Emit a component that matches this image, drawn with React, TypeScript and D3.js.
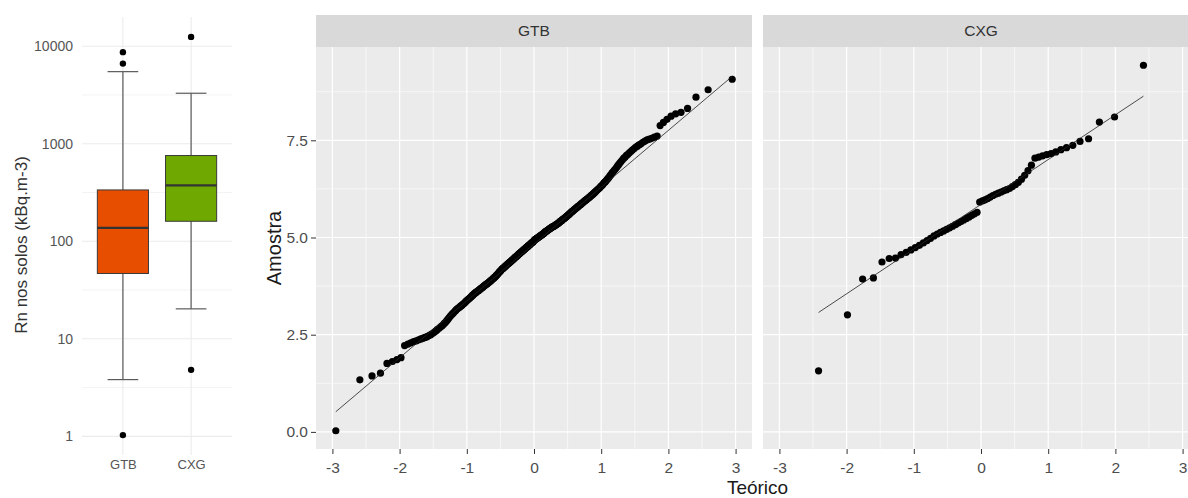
import React, { useEffect, useRef } from "react";
import * as d3 from "d3";

// ln(Rn) sorted samples
const groups = ["GTB", "CXG"];

const gtbSample = [
  0.03, 1.34, 1.44, 1.51, 1.76, 1.81, 1.86, 1.91, 2.22, 2.26,
  2.29, 2.32, 2.34, 2.37, 2.39, 2.41, 2.43, 2.45, 2.48, 2.50,
  2.53, 2.56, 2.59, 2.63, 2.66, 2.69, 2.72, 2.75, 2.79, 2.82,
  2.86, 2.90, 2.94, 2.98, 3.01, 3.04, 3.07, 3.10, 3.13, 3.16,
  3.18, 3.20, 3.22, 3.24, 3.26, 3.28, 3.30, 3.32, 3.35, 3.37,
  3.39, 3.41, 3.43, 3.45, 3.47, 3.49, 3.51, 3.53, 3.55, 3.57,
  3.58, 3.60, 3.61, 3.63, 3.64, 3.66, 3.67, 3.69, 3.70, 3.72,
  3.73, 3.75, 3.76, 3.78, 3.79, 3.80, 3.82, 3.83, 3.84, 3.86,
  3.87, 3.89, 3.90, 3.92, 3.93, 3.95, 3.96, 3.98, 3.99, 4.01,
  4.03, 4.04, 4.06, 4.08, 4.10, 4.12, 4.13, 4.15, 4.17, 4.19,
  4.20, 4.21, 4.22, 4.24, 4.25, 4.27, 4.28, 4.29, 4.31, 4.32,
  4.33, 4.35, 4.36, 4.37, 4.38, 4.40, 4.41, 4.42, 4.44, 4.45,
  4.46, 4.48, 4.49, 4.50, 4.51, 4.53, 4.54, 4.55, 4.57, 4.58,
  4.59, 4.60, 4.62, 4.63, 4.64, 4.65, 4.66, 4.68, 4.69, 4.70,
  4.71, 4.73, 4.74, 4.75, 4.76, 4.77, 4.79, 4.80, 4.81, 4.82,
  4.83, 4.85, 4.86, 4.87, 4.88, 4.89, 4.91, 4.93, 4.94, 4.95,
  4.96, 4.97, 4.98, 4.99, 5.00, 5.01, 5.02, 5.03, 5.04, 5.05,
  5.06, 5.07, 5.08, 5.09, 5.10, 5.11, 5.13, 5.14, 5.15, 5.16,
  5.17, 5.18, 5.19, 5.20, 5.21, 5.22, 5.23, 5.24, 5.25, 5.26,
  5.27, 5.28, 5.28, 5.29, 5.30, 5.31, 5.32, 5.33, 5.34, 5.35,
  5.36, 5.37, 5.38, 5.40, 5.41, 5.42, 5.43, 5.44, 5.46, 5.47,
  5.48, 5.49, 5.50, 5.52, 5.53, 5.54, 5.56, 5.57, 5.58, 5.60,
  5.61, 5.63, 5.64, 5.66, 5.67, 5.68, 5.70, 5.71, 5.73, 5.74,
  5.75, 5.77, 5.78, 5.80, 5.81, 5.82, 5.84, 5.85, 5.87, 5.88,
  5.90, 5.91, 5.93, 5.94, 5.96, 5.97, 5.99, 6.00, 6.02, 6.03,
  6.05, 6.07, 6.09, 6.10, 6.12, 6.14, 6.16, 6.18, 6.20, 6.22,
  6.24, 6.26, 6.28, 6.31, 6.33, 6.35, 6.38, 6.41, 6.43, 6.46,
  6.49, 6.52, 6.55, 6.59, 6.62, 6.66, 6.69, 6.73, 6.76, 6.80,
  6.84, 6.88, 6.92, 6.96, 7.00, 7.04, 7.07, 7.11, 7.14, 7.18,
  7.21, 7.25, 7.28, 7.32, 7.35, 7.38, 7.41, 7.45, 7.48, 7.51,
  7.53, 7.55, 7.58, 7.61, 7.88, 7.96, 8.04, 8.12, 8.18, 8.22,
  8.32, 8.61, 8.80, 9.07
];

const cxgSample = [
  1.57, 3.01, 3.93, 3.96, 4.37, 4.46, 4.47, 4.56, 4.62, 4.68,
  4.74, 4.80, 4.86, 4.92, 4.98, 5.04, 5.09, 5.13, 5.17, 5.21,
  5.25, 5.29, 5.33, 5.37, 5.41, 5.45, 5.49, 5.53, 5.57, 5.61,
  5.65, 5.91, 5.94, 5.97, 6.00, 6.04, 6.08, 6.11, 6.14, 6.17,
  6.20, 6.23, 6.26, 6.31, 6.36, 6.42, 6.50, 6.60, 6.72, 6.86,
  7.04, 7.07, 7.10, 7.13, 7.16, 7.20, 7.26, 7.31, 7.37, 7.47,
  7.54, 7.97, 8.10, 9.43
];

const groupColors = ["#E84E00", "#6FA800"];
const boxYTicks = [1, 10, 100, 1000, 10000];
const qqXTicks = [-3, -2, -1, 0, 1, 2, 3];
const qqYTicks = [0, 2.5, 5, 7.5];
const boxTitle = "Rn nos solos (kBq.m-3)";
const xTitle = "Teórico";
const yTitle = "Amostra";

const font = "'Liberation Sans', Arial, sans-serif";

// inverse normal CDF (Acklam)
function qnorm(p: number) {
  const a = [-39.69683028665376, 220.9460984245205, -275.9285104469687, 138.357751867269, -30.66479806614716, 2.506628277459239];
  const b = [-54.47609879822406, 161.5858368580409, -155.6989798598866, 66.80131188771972, -13.28068155288572];
  const c = [-0.007784894002430293, -0.3223964580411365, -2.400758277161838, -2.549671500254454, 4.374664141464968, 2.938163982698783];
  const d = [0.007784695709041462, 0.3224671290700398, 2.445134137142996, 3.754408661907416];
  const pl = 0.02425;
  if (p < pl) {
    const q = Math.sqrt(-2 * Math.log(p));
    return (((((c[0] * q + c[1]) * q + c[2]) * q + c[3]) * q + c[4]) * q + c[5]) / ((((d[0] * q + d[1]) * q + d[2]) * q + d[3]) * q + 1);
  }
  if (p > 1 - pl) {
    const q = Math.sqrt(-2 * Math.log(1 - p));
    return -(((((c[0] * q + c[1]) * q + c[2]) * q + c[3]) * q + c[4]) * q + c[5]) / ((((d[0] * q + d[1]) * q + d[2]) * q + d[3]) * q + 1);
  }
  const q = p - 0.5;
  const r = q * q;
  return (((((a[0] * r + a[1]) * r + a[2]) * r + a[3]) * r + a[4]) * r + a[5]) * q / (((((b[0] * r + b[1]) * r + b[2]) * r + b[3]) * r + b[4]) * r + 1);
}

export default function App() {
  const ref = useRef<SVGSVGElement>(null);

  useEffect(() => {
    const svg = d3.select(ref.current);
    svg.selectAll("*").remove();

    const samples = [gtbSample, cxgSample].map(s => s.slice().sort(d3.ascending));
    const allVals = samples.flat();
    const [vMin, vMax] = d3.extent(allVals) as [number, number];

    // ---------- boxplot ----------
    const box = { left: 82, right: 232, top: 17, bottom: 455 };
    const l0 = vMin / Math.LN10, l1 = vMax / Math.LN10;
    const lpad = (l1 - l0) * 0.05;
    const yBox = d3.scaleLog().domain([10 ** (l0 - lpad), 10 ** (l1 + lpad)]).range([box.bottom, box.top]);
    const xBox = d3.scalePoint().domain(groups).range([box.left, box.right]).padding(0.6);
    const step = xBox.step();

    const bg = svg.append("g");
    bg.selectAll("line.minor").data(boxYTicks.slice(0, -1).map(t => t * Math.sqrt(10))).enter().append("line")
      .attr("x1", box.left).attr("x2", box.right)
      .attr("y1", d => yBox(d)).attr("y2", d => yBox(d))
      .attr("stroke", "#EBEBEB").attr("stroke-width", 0.6);
    bg.selectAll("line.major").data(boxYTicks).enter().append("line")
      .attr("x1", box.left).attr("x2", box.right)
      .attr("y1", d => yBox(d)).attr("y2", d => yBox(d))
      .attr("stroke", "#EBEBEB").attr("stroke-width", 1.1);
    bg.selectAll("line.vmajor").data(groups).enter().append("line")
      .attr("x1", d => xBox(d)!).attr("x2", d => xBox(d)!)
      .attr("y1", box.top).attr("y2", box.bottom)
      .attr("stroke", "#EBEBEB").attr("stroke-width", 1.1);

    const stats = samples.map(sorted => {
      const q1 = d3.quantile(sorted, 0.25)!;
      const med = d3.quantile(sorted, 0.5)!;
      const q3 = d3.quantile(sorted, 0.75)!;
      const iqr = q3 - q1;
      const lo = q1 - 1.5 * iqr, hi = q3 + 1.5 * iqr;
      const inside = sorted.filter(v => v >= lo && v <= hi);
      return {
        q1, med, q3,
        wlo: d3.min(inside)!, whi: d3.max(inside)!,
        out: sorted.filter(v => v < lo || v > hi)
      };
    });

    const bw = step * 0.75;
    const capW = step * 0.45;
    stats.forEach((s, k) => {
      const cx = xBox(groups[k])!;
      const g = svg.append("g");
      const wl = (a: number, b: number) => g.append("line")
        .attr("x1", cx).attr("x2", cx)
        .attr("y1", yBox(Math.exp(a))).attr("y2", yBox(Math.exp(b)))
        .attr("stroke", "#5a5a5a").attr("stroke-width", 1.2);
      wl(s.q3, s.whi);
      wl(s.q1, s.wlo);
      [s.whi, s.wlo].forEach(v => {
        g.append("line")
          .attr("x1", cx - capW / 2).attr("x2", cx + capW / 2)
          .attr("y1", yBox(Math.exp(v))).attr("y2", yBox(Math.exp(v)))
          .attr("stroke", "#5a5a5a").attr("stroke-width", 1.2);
      });
      g.append("rect")
        .attr("x", cx - bw / 2).attr("width", bw)
        .attr("y", yBox(Math.exp(s.q3)))
        .attr("height", yBox(Math.exp(s.q1)) - yBox(Math.exp(s.q3)))
        .attr("fill", groupColors[k]).attr("stroke", "#3a3a3a").attr("stroke-width", 1);
      g.append("line")
        .attr("x1", cx - bw / 2).attr("x2", cx + bw / 2)
        .attr("y1", yBox(Math.exp(s.med))).attr("y2", yBox(Math.exp(s.med)))
        .attr("stroke", "#333").attr("stroke-width", 2.2);
      g.selectAll("circle").data(s.out).enter().append("circle")
        .attr("cx", cx).attr("cy", v => yBox(Math.exp(v))).attr("r", 3.2)
        .attr("fill", "#000");
    });

    const byAxis = svg.append("g").attr("transform", `translate(${box.left},0)`)
      .call(d3.axisLeft(yBox).tickValues(boxYTicks).tickSize(0).tickPadding(9).tickFormat(d => String(d)));
    byAxis.select(".domain").remove();
    byAxis.attr("font-family", font).attr("font-size", 14);
    byAxis.selectAll(".tick text").attr("fill", "#555");

    const bxAxis = svg.append("g").attr("transform", `translate(0,${box.bottom})`)
      .call(d3.axisBottom(xBox).tickSize(0).tickPadding(5));
    bxAxis.select(".domain").remove();
    bxAxis.attr("font-family", font).attr("font-size", 13);
    bxAxis.selectAll(".tick text").attr("fill", "#555");

    svg.append("text")
      .attr("transform", `translate(27,${(box.top + box.bottom) / 2 + 9}) rotate(-90)`)
      .attr("text-anchor", "middle").attr("font-family", font).attr("font-size", 17)
      .attr("fill", "#333").text(boxTitle);

    // ---------- QQ facets ----------
    const panelW = 436, gap = 11, pLeft = 316;
    const stripTop = 15, pTop = 47, pBottom = 449;

    const qq = samples.map(sorted => {
      const n = sorted.length;
      const pts = sorted.map((v, i) => ({ t: qnorm((i + 0.5) / n), v }));
      const y1 = d3.quantile(sorted, 0.25)!, y2 = d3.quantile(sorted, 0.75)!;
      const x1 = qnorm(0.25), x2 = qnorm(0.75);
      const slope = (y2 - y1) / (x2 - x1);
      const intercept = y1 - slope * x1;
      return { pts, slope, intercept };
    });

    const tAll = qq.flatMap(d => d.pts.map(p => p.t));
    const [tMin, tMax] = d3.extent(tAll) as [number, number];
    const tPad = (tMax - tMin) * 0.05;
    const vPad = (vMax - vMin) * 0.05;
    const y = d3.scaleLinear().domain([vMin - vPad, vMax + vPad]).range([pBottom, pTop]);

    const defs = svg.append("defs");

    qq.forEach((d, k) => {
      const x0 = pLeft + k * (panelW + gap);
      const x = d3.scaleLinear().domain([tMin - tPad, tMax + tPad]).range([x0, x0 + panelW]);
      const g = svg.append("g");

      defs.append("clipPath").attr("id", `clip${k}`).append("rect")
        .attr("x", x0).attr("y", pTop).attr("width", panelW).attr("height", pBottom - pTop);

      g.append("rect").attr("x", x0).attr("y", pTop).attr("width", panelW).attr("height", pBottom - pTop)
        .attr("fill", "#EBEBEB");

      const minorX = qqXTicks.slice(0, -1).map(t => t + 0.5);
      const minorY = qqYTicks.map(t => t + 1.25);
      g.selectAll("line.mx").data(minorX).enter().append("line")
        .attr("x1", t => x(t)).attr("x2", t => x(t)).attr("y1", pTop).attr("y2", pBottom)
        .attr("stroke", "#fff").attr("stroke-width", 0.6);
      g.selectAll("line.my").data(minorY).enter().append("line")
        .attr("x1", x0).attr("x2", x0 + panelW).attr("y1", v => y(v)).attr("y2", v => y(v))
        .attr("stroke", "#fff").attr("stroke-width", 0.6);
      g.selectAll("line.Mx").data(qqXTicks).enter().append("line")
        .attr("x1", t => x(t)).attr("x2", t => x(t)).attr("y1", pTop).attr("y2", pBottom)
        .attr("stroke", "#fff").attr("stroke-width", 1.2);
      g.selectAll("line.My").data(qqYTicks).enter().append("line")
        .attr("x1", x0).attr("x2", x0 + panelW).attr("y1", v => y(v)).attr("y2", v => y(v))
        .attr("stroke", "#fff").attr("stroke-width", 1.2);

      const data = g.append("g").attr("clip-path", `url(#clip${k})`);
      const ts = d3.extent(d.pts, p => p.t) as [number, number];
      data.selectAll("circle").data(d.pts).enter().append("circle")
        .attr("cx", p => x(p.t)).attr("cy", p => y(p.v)).attr("r", 3.6)
        .attr("fill", "#000");
      data.append("line")
        .attr("x1", x(ts[0])).attr("x2", x(ts[1]))
        .attr("y1", y(d.intercept + d.slope * ts[0])).attr("y2", y(d.intercept + d.slope * ts[1]))
        .attr("stroke", "#222").attr("stroke-width", 0.8);

      // strip
      g.append("rect").attr("x", x0).attr("y", stripTop).attr("width", panelW).attr("height", pTop - stripTop)
        .attr("fill", "#D9D9D9");
      g.append("text").attr("x", x0 + panelW / 2).attr("y", (stripTop + pTop) / 2)
        .attr("dy", "0.35em").attr("text-anchor", "middle")
        .attr("font-family", font).attr("font-size", 15.5).attr("fill", "#333")
        .text(groups[k]);

      const xa = svg.append("g").attr("transform", `translate(0,${pBottom})`)
        .call(d3.axisBottom(x).tickValues(qqXTicks).tickSize(5).tickPadding(8).tickFormat(t => String(t)));
      xa.select(".domain").remove();
      xa.attr("font-family", font).attr("font-size", 15.5);
      xa.selectAll(".tick line").attr("stroke", "#333");
      xa.selectAll(".tick text").attr("fill", "#4d4d4d");

      if (k === 0) {
        const ya = svg.append("g").attr("transform", `translate(${x0},0)`)
          .call(d3.axisLeft(y).tickValues(qqYTicks).tickSize(5).tickPadding(3).tickFormat(d3.format(".1f")));
        ya.select(".domain").remove();
        ya.attr("font-family", font).attr("font-size", 15.5);
        ya.selectAll(".tick line").attr("stroke", "#333");
        ya.selectAll(".tick text").attr("fill", "#4d4d4d");
      }
    });

    svg.append("text")
      .attr("transform", `translate(281,${(pTop + pBottom) / 2}) rotate(-90)`)
      .attr("text-anchor", "middle").attr("font-family", font).attr("font-size", 20)
      .attr("fill", "#1a1a1a").text(yTitle);

    svg.append("text")
      .attr("x", pLeft + panelW + gap / 2).attr("y", 494)
      .attr("text-anchor", "middle").attr("font-family", font).attr("font-size", 19)
      .attr("fill", "#1a1a1a").text(xTitle);
  }, []);

  return (
    <div style={{ position: "absolute", left: 0, top: 0 }}>
      <svg ref={ref} width={1188} height={498} style={{ display: "block", background: "#fff" }} />
    </div>
  );
}
